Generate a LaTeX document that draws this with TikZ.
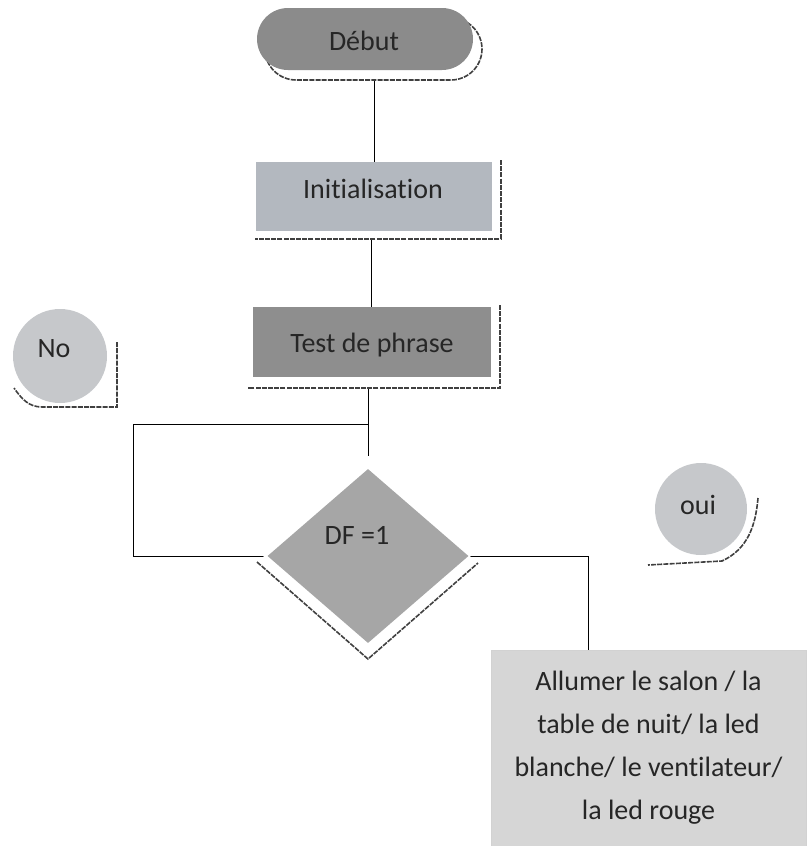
\documentclass[tikz,border=0pt]{standalone}
\usepackage{fontspec}
\setmainfont{Carlito}[Ligatures=NoCommon]
\usetikzlibrary{shapes.geometric,calc}
\pgfdeclarelayer{bg}
\pgfdeclarelayer{sh}
\pgfsetlayers{bg,sh,main}
\definecolor{debutfill}{HTML}{8B8B8B}
\definecolor{initfill}{HTML}{B3B8BF}
\definecolor{testfill}{HTML}{8E8E8E}
\definecolor{diafill}{HTML}{A6A6A6}
\definecolor{circfill}{HTML}{C6C8CB}
\definecolor{boxfill}{HTML}{D6D6D6}
\definecolor{txt}{HTML}{262626}
\begin{document}
\begin{tikzpicture}[x=1pt,y=-1pt,
  every node/.style={text=txt,font=\fontsize{28}{43}\selectfont},
  shape box/.style={draw=none,inner sep=0pt,align=center},
  shline/.style={draw=black!75,line width=1.6pt,dash pattern=on 5pt off 1.2pt},
  conn/.style={draw=black,line width=1pt}]
\useasboundingbox (0,0) rectangle (806,846);

% main shapes
\node[shape box,fill=debutfill,rounded corners=31pt,minimum width=216pt,minimum height=62pt] (debut) at (365,39) {};
\node (debuttext) at (364,41) {Début};
\node[shape box,fill=initfill,minimum width=236pt,minimum height=69pt] (init) at (374,196.5) {};
\node (inittext) at (373,189) {Initialisation};
\node[shape box,fill=testfill,minimum width=238pt,minimum height=70pt] (test) at (372,342) {};
\node (testtext) at (372,345) {Test de phrase};
\node[diamond,fill=diafill,draw=none,inner sep=0pt,minimum width=201pt,minimum height=174pt,aspect=1.155] (dia) at (368,556) {};
\node (dftext) at (357,535) {DF =1};
\node[circle,fill=circfill,draw=none,minimum size=94pt,inner sep=0pt] (no) at (60,356) {};
\node (notext) at (54,349) {No};
\node[circle,fill=circfill,draw=none,minimum size=92pt,inner sep=0pt] (oui) at (701,509) {};
\node (ouitext) at (698,505) {oui};
\node[shape box,fill=boxfill,draw=gray!35,line width=0.4pt,minimum width=315pt,minimum height=196pt] (box) at (648.5,748)
  {Allumer le salon / la\\table de nuit/ la led\\blanche/ le ventilateur/\\la led rouge};

% shadows
\begin{pgfonlayer}{sh}
  \path[fill=white,rounded corners=31pt] (265,18) rectangle (482,80);
  \draw[shline,rounded corners=31pt] (265,18) rectangle (482,80);
  \fill[white] (256,165) rectangle (501,239);
  \draw[shline] (501,160) -- (501,239) -- (255,239);
  \fill[white] (253,310) rectangle (500,388);
  \draw[shline] (500,305) -- (500,388) -- (248,388);
  \fill[white] (257,562) -- (368,659) -- (478,563) -- (368,470) -- cycle;
  \draw[shline] (257,562) -- (368,659) -- (478,563);
  \draw[shline] (117,342) -- (117,407) -- (42,407) to[out=180,in=-55] (14,388);
  \draw[shline] (758,498) to[out=-95,in=25] (722,561) -- (648,565);
\end{pgfonlayer}

% connectors
\coordinate (j) at (dia.north |- 0,424);
\coordinate (lc) at (133,424);
\coordinate (rc) at (588,0);
\begin{pgfonlayer}{bg}
  \draw[conn] (init.north) -- (init.north |- debut.south);
  \draw[conn] (init.south -| 371,0) -- (test.north -| 371,0);
  \draw[conn,shorten >=13pt] (test.south -| dia.north) -- (dia.north);
  \draw[conn] (j) -- (lc) |- (dia.west);
  \draw[conn] (dia.east) -| (rc |- box.north);
\end{pgfonlayer}
\end{tikzpicture}
\end{document}
